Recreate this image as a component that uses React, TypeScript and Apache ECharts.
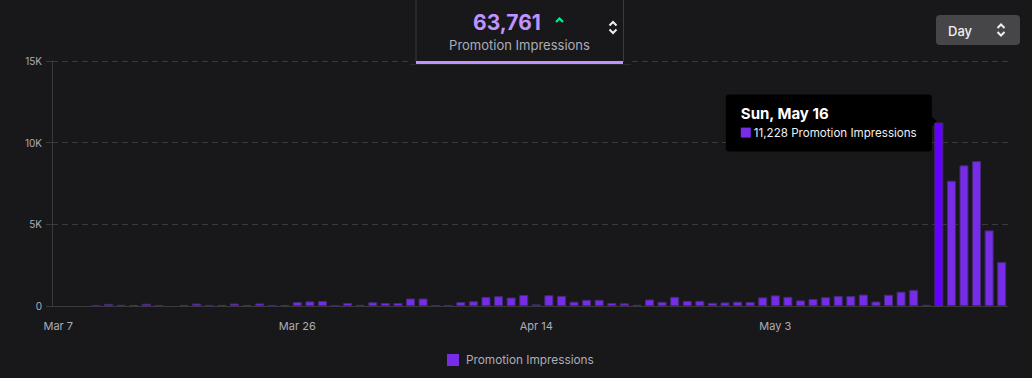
import React, { useEffect, useRef } from "react";
import * as echarts from "echarts";

const MONTHS = ["Jan", "Feb", "Mar", "Apr", "May", "Jun", "Jul", "Aug", "Sep", "Oct", "Nov", "Dec"];
const WEEKDAYS = ["Sun", "Mon", "Tue", "Wed", "Thu", "Fri", "Sat"];
const START = { year: 2021, month: 2, day: 7 };

const seriesName = "Promotion Impressions";
const totalValue = "63,761";

const impressions = [
  0, 0, 0, 20, 130, 70, 60, 140, 40, 0,
  60, 150, 20, 60, 150, 60, 160, 20, 60, 245,
  285, 305, 20, 185, 70, 230, 185, 185, 460, 460,
  25, 40, 245, 295, 560, 600, 520, 670, 100, 660,
  620, 265, 380, 380, 185, 165, 70, 400, 255, 560,
  315, 315, 195, 220, 265, 245, 530, 650, 560, 345,
  430, 540, 620, 610, 700, 275, 690, 875, 990, 70,
  11228, 7670, 8610, 8870, 4630, 2690,
];
const highlightIndex = 70;

const yTicks = [0, 5000, 10000, 15000];

const dates = impressions.map((_, i) => new Date(START.year, START.month, START.day + i));
const categories = dates.map((d) => `${MONTHS[d.getMonth()]} ${d.getDate()}`);

const BG = "#18181b";
const GRID = "#3a3a3d";
const LABEL = "#adadb8";
const BAR = "#772ce8";
const BAR_HI = "#6400ff";
const FONT = "Inter";

export default function App() {
  const ref = useRef<HTMLDivElement>(null);
  useEffect(() => {
    document.body.style.margin = "0";
    document.body.style.background = BG;
    const chart = echarts.init(ref.current!, null, { renderer: "svg" });
    chart.setOption({
      animation: false,
      backgroundColor: BG,
      textStyle: { fontFamily: FONT },
      grid: { left: 52, right: 24, top: 61, bottom: 72, containLabel: false },
      legend: {
        bottom: 7,
        left: 442,
        icon: "rect",
        itemWidth: 12,
        itemHeight: 12,
        itemGap: 10,
        textStyle: { color: LABEL, fontSize: 11.8, fontFamily: FONT, padding: [0, 0, 0, 2] },
        data: [{ name: seriesName, itemStyle: { color: BAR, borderWidth: 0 } }],
      },
      xAxis: {
        type: "category",
        data: categories,
        boundaryGap: true,
        axisLine: { show: true, lineStyle: { color: GRID, width: 1 } },
        axisTick: { show: false },
        axisLabel: { interval: 18, color: LABEL, fontSize: 11, margin: 14, fontFamily: FONT },
        splitLine: { show: false },
      },
      yAxis: {
        type: "value",
        min: yTicks[0],
        max: yTicks[yTicks.length - 1],
        interval: 5000,
        axisLine: { show: true, lineStyle: { color: GRID, width: 1 } },
        axisTick: { show: true, length: 6, lineStyle: { color: GRID } },
        axisLabel: {
          color: LABEL,
          fontSize: 10,
          margin: 10,
          fontFamily: FONT,
          formatter: (v: number) => (v === 0 ? "0" : `${v / 1000}K`),
        },
        splitLine: { show: true, lineStyle: { color: GRID, type: [6, 4], width: 1 } },
      },
      series: [
        {
          name: seriesName,
          type: "bar",
          barWidth: 9,
          data: impressions.map((v, i) =>
            i === highlightIndex
              ? { value: v, itemStyle: { color: BAR_HI } }
              : v === 0
              ? { value: v, itemStyle: { borderWidth: 0 } }
              : v
          ),
          itemStyle: { color: BAR, borderColor: "#45297a", borderWidth: 1 },
        },
      ],
    });

    const anchor = chart.convertToPixel({ seriesIndex: 0 }, [highlightIndex, impressions[highlightIndex]]) as number[];
    const tipW = 206;
    const tipH = 57;
    const tipRight = anchor[0] - 7;
    const tipTop = anchor[1] - 28;
    const tipLeft = tipRight - tipW;
    const d = dates[highlightIndex];
    const tipTitle = `${WEEKDAYS[d.getDay()]}, ${MONTHS[d.getMonth()]} ${d.getDate()}`;
    const tipValue = `${impressions[highlightIndex].toLocaleString("en-US")} ${seriesName}`;

    const chevron = (cx: number, cy: number, color: string) => [
      {
        type: "polyline",
        shape: { points: [[cx - 3.5, cy - 2], [cx, cy - 5.5], [cx + 3.5, cy - 2]] },
        style: { stroke: color, lineWidth: 2, fill: null },
      },
      {
        type: "polyline",
        shape: { points: [[cx - 3.5, cy + 2], [cx, cy + 5.5], [cx + 3.5, cy + 2]] },
        style: { stroke: color, lineWidth: 2, fill: null },
      },
    ];

    chart.setOption({
      graphic: [
        // header metric box
        { type: "rect", shape: { x: 410, y: 0, width: 221, height: 65 }, style: { fill: BG } },
        { type: "line", shape: { x1: 416, y1: 0, x2: 416, y2: 62 }, style: { stroke: GRID, lineWidth: 1 } },
        { type: "line", shape: { x1: 623.5, y1: 0, x2: 623.5, y2: 62 }, style: { stroke: GRID, lineWidth: 1 } },
        { type: "line", shape: { x1: 410, y1: 64.5, x2: 631, y2: 64.5 }, style: { stroke: "#2a2a2d", lineWidth: 1 } },
        { type: "rect", shape: { x: 416, y: 61, width: 207, height: 3 }, style: { fill: "#bf94ff" } },
        {
          type: "text",
          x: 507,
          y: 22,
          style: { text: totalValue, fill: "#bf94ff", font: `bold 21px ${FONT}`, align: "center", verticalAlign: "middle" },
        },
        {
          type: "polyline",
          shape: { points: [[556, 22], [559.5, 18.5], [563, 22]] },
          style: { stroke: "#00f593", lineWidth: 2, fill: null },
        },
        {
          type: "text",
          x: 519.5,
          y: 45,
          style: { text: seriesName, fill: LABEL, font: `13px ${FONT}`, align: "center", verticalAlign: "middle" },
        },
        ...chevron(613, 27.5, "#efeff1"),
        // Day selector
        { type: "rect", shape: { x: 936, y: 15, width: 84, height: 30, r: 4 }, style: { fill: "#464649" } },
        {
          type: "text",
          x: 948,
          y: 30.5,
          style: { text: "Day", fill: "#efeff1", font: `500 13px ${FONT}`, align: "left", verticalAlign: "middle" },
        },
        ...chevron(1001, 30, "#efeff1"),
        // tooltip
        { type: "rect", shape: { x: tipLeft, y: tipTop, width: tipW, height: tipH, r: 3 }, style: { fill: "#000000" } },
        {
          type: "polygon",
          shape: { points: [[tipRight, tipTop + 22], [tipRight + 5, tipTop + 27], [tipRight, tipTop + 32]] },
          style: { fill: "#000000" },
        },
        {
          type: "text",
          x: tipLeft + 15,
          y: tipTop + 19,
          style: { text: tipTitle, fill: "#ffffff", font: `bold 15px ${FONT}`, align: "left", verticalAlign: "middle" },
        },
        { type: "rect", shape: { x: tipLeft + 15, y: tipTop + 33, width: 10, height: 10 }, style: { fill: BAR } },
        {
          type: "text",
          x: tipLeft + 28,
          y: tipTop + 38.5,
          style: { text: tipValue, fill: "#efeff1", font: `11.6px ${FONT}`, align: "left", verticalAlign: "middle" },
        },
      ],
    });

    return () => chart.dispose();
  }, []);
  return <div ref={ref} style={{ width: 1032, height: 378 }} />;
}
